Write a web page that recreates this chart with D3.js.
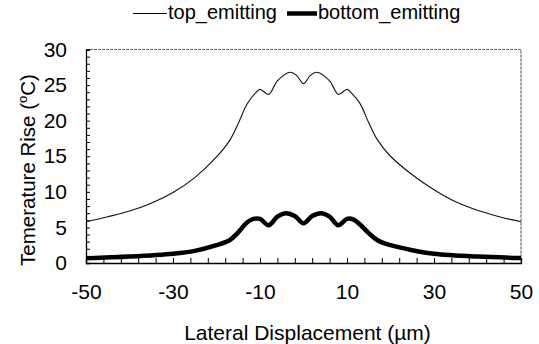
<!DOCTYPE html>
<html>
<head>
<meta charset="utf-8">
<script src="https://cdn.jsdelivr.net/npm/d3@7"></script>
<style>
  html, body { margin: 0; padding: 0; background: #fff; }
  svg { display: block; font-family: "Liberation Sans", Arial, sans-serif; }
</style>
</head>
<body>
<svg id="chart" width="539" height="344"></svg>
<script>
// ---- data ----
const xPositions = [-50, -45, -40, -35, -30, -25, -20, -17, -15, -13, -11, -10, -8, -6, -3, -1.5, 0, 1.5, 3, 6, 8, 10, 11, 13, 15, 17, 20, 25, 30, 35, 40, 45, 50];
const topEmitting = [5.8, 6.5, 7.3, 8.4, 9.9, 12.0, 14.9, 17.2, 19.6, 22.3, 23.9, 24.4, 23.7, 25.6, 26.8, 26.3, 25.2, 26.3, 26.8, 25.6, 23.7, 24.4, 23.9, 22.4, 19.7, 17.3, 15.0, 12.4, 10.3, 8.6, 7.4, 6.5, 5.8];
const xPositionsBottom = [-50, -40, -30, -25, -20, -17, -15, -13, -11.5, -10, -8, -6, -4, -2, 0, 2, 4, 6, 8, 10, 11.5, 13, 15, 17, 20, 25, 30, 40, 50];
const bottomEmitting = [0.65, 0.9, 1.3, 1.7, 2.5, 3.2, 4.3, 5.7, 6.2, 6.2, 5.3, 6.5, 7.0, 6.6, 5.6, 6.6, 7.0, 6.5, 5.3, 6.2, 6.1, 5.4, 4.2, 3.2, 2.5, 1.8, 1.3, 0.9, 0.7];
const xTickLabels = [-50, -30, -10, 10, 30, 50];
const yTickLabels = [0, 5, 10, 15, 20, 25, 30];
const seriesNames = ["top_emitting", "bottom_emitting"];

// ---- layout ----
const svg = d3.select("#chart");
const pLeft = 86, pRight = 521, pTop = 49.5, pBottom = 263;
const x = d3.scaleLinear().domain([-50, 50]).range([pLeft, pRight]);
const y = d3.scaleLinear().domain([0, 30]).range([pBottom, pTop]);
const fontSize = 21;
const fmt = d => String(d);

// frame (top and right)
svg.append("path")
  .attr("d", `M${pLeft},${pTop}H${pRight}V${pBottom}`)
  .attr("fill", "none").attr("stroke", "#666").attr("stroke-width", 1.2)
  .attr("stroke-dasharray", "3,1");

// x axis
const xMinor = d3.range(-50, 50.01, 4);
const gx = svg.append("g").attr("transform", `translate(0,${pBottom})`)
  .call(d3.axisBottom(x).tickValues(xMinor).tickSize(-5).tickFormat(""));
gx.select(".domain").attr("stroke", "#000").attr("stroke-width", 1.3);
gx.selectAll(".tick line").attr("stroke", "#000");
const gxl = svg.append("g").attr("transform", `translate(0,${pBottom})`)
  .call(d3.axisBottom(x).tickValues(xTickLabels).tickSize(0).tickPadding(21).tickFormat(fmt));
gxl.select(".domain").remove();
gxl.selectAll("text").attr("font-size", fontSize).attr("fill", "#000")
  .attr("font-family", "Liberation Sans, Arial, sans-serif");

// y axis
const yMinor = d3.range(0, 30.01, 1);
const gy = svg.append("g").attr("transform", `translate(${pLeft},0)`)
  .call(d3.axisLeft(y).tickValues(yMinor).tickSize(-4).tickFormat(""));
gy.select(".domain").attr("stroke", "#000").attr("stroke-width", 1.3);
gy.selectAll(".tick line").attr("stroke", "#000");
const gyl = svg.append("g").attr("transform", `translate(${pLeft},0)`)
  .call(d3.axisLeft(y).tickValues(yTickLabels).tickSize(0).tickPadding(19).tickFormat(fmt));
gyl.select(".domain").remove();
gyl.selectAll("text").attr("font-size", fontSize).attr("fill", "#000")
  .attr("font-family", "Liberation Sans, Arial, sans-serif");

// lines
const lineTop = d3.line().x((d, i) => x(xPositions[i])).y(d => y(d)).curve(d3.curveCatmullRom.alpha(0.5));
const lineBottom = d3.line().x((d, i) => x(xPositionsBottom[i])).y(d => y(d)).curve(d3.curveCatmullRom.alpha(0.5));
svg.append("path").datum(topEmitting).attr("d", lineTop)
  .attr("fill", "none").attr("stroke", "#111").attr("stroke-width", 1.1);
svg.append("path").datum(bottomEmitting).attr("d", lineBottom)
  .attr("fill", "none").attr("stroke", "#000").attr("stroke-width", 4.5);

// axis titles
svg.append("text").attr("x", (pLeft + pRight) / 2 + 4).attr("y", 340)
  .attr("text-anchor", "middle").attr("font-size", fontSize)
  .text("Lateral Displacement (\u00b5m)");
const yt = svg.append("text").attr("transform", "translate(35,170) rotate(-90)")
  .attr("text-anchor", "middle").attr("font-size", 20.5);
yt.append("tspan").text("Temerature Rise (");
yt.append("tspan").attr("font-size", 13).attr("dy", -8).text("o");
yt.append("tspan").attr("dy", 8).text("C)");

// legend
const legend = svg.append("g");
const legendItems = [
  { name: seriesNames[0], x1: 133, x2: 167, tx: 168, w: 1.1 },
  { name: seriesNames[1], x1: 287, x2: 317, tx: 318, w: 4.5 }
];
legendItems.forEach(it => {
  legend.append("line").attr("x1", it.x1).attr("x2", it.x2).attr("y1", 13.5).attr("y2", 13.5)
    .attr("stroke", "#000").attr("stroke-width", it.w);
  legend.append("text").attr("x", it.tx).attr("y", 19).attr("font-size", 20).text(it.name);
});
</script>
</body>
</html>
